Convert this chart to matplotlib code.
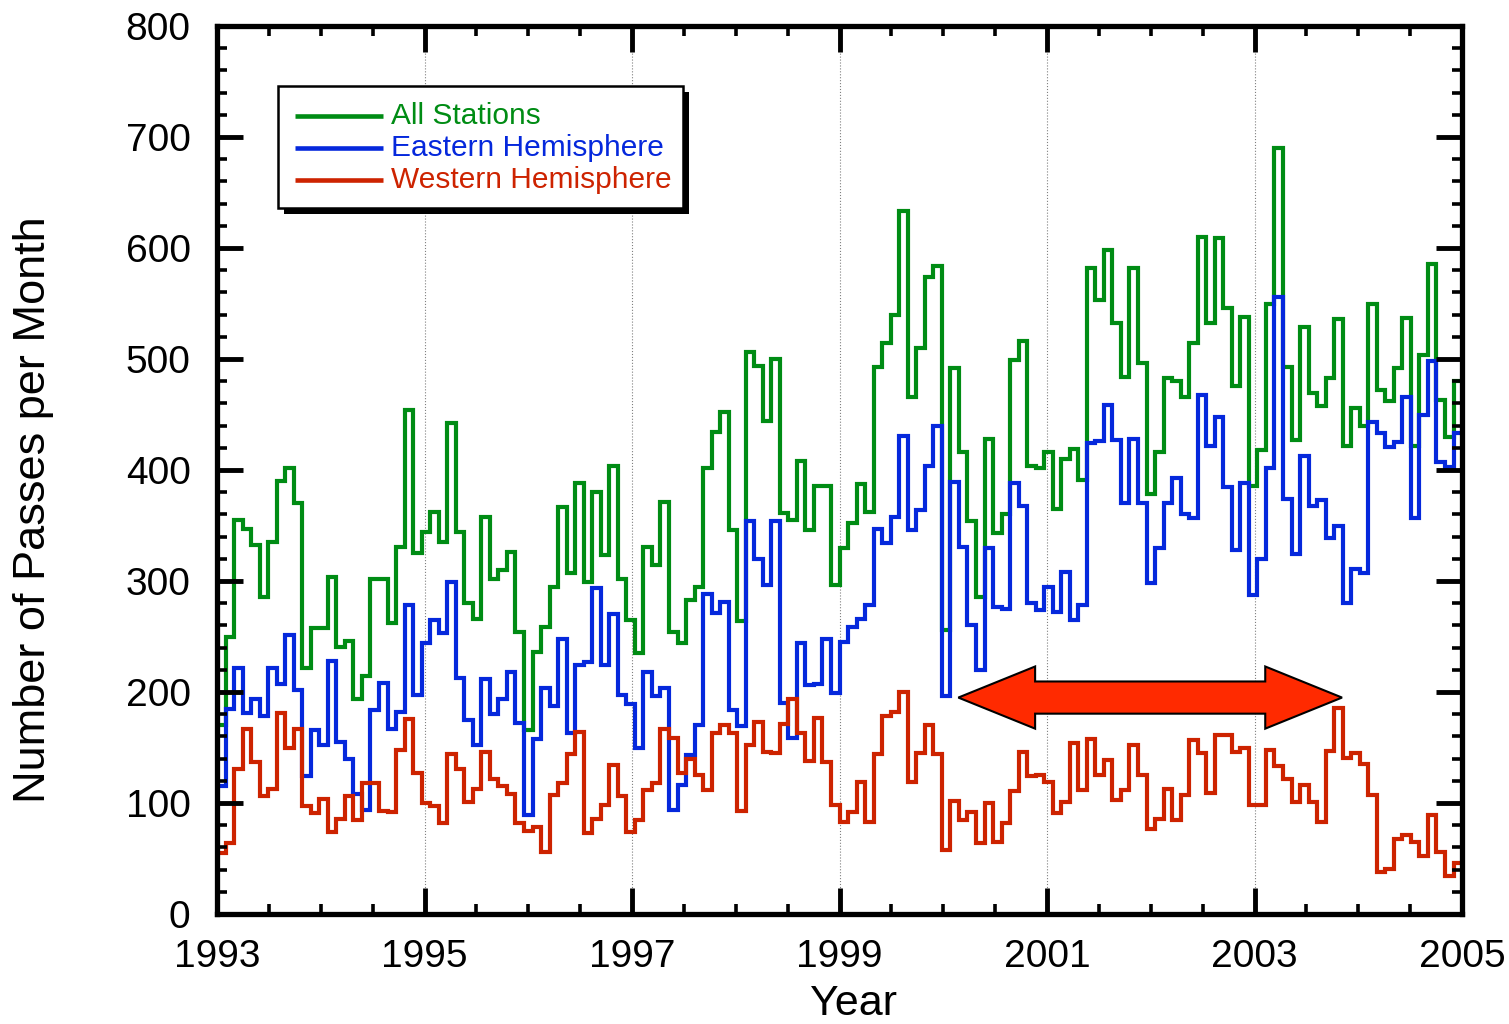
import numpy as np
import matplotlib.pyplot as plt
from matplotlib.patches import Polygon, Rectangle
from matplotlib.ticker import MultipleLocator

plt.rcParams["font.family"] = ["Liberation Sans", "DejaVu Sans"]

# monthly passes, Jan 1993 onwards
all_stations = [
    170, 250, 355, 347, 332, 286, 335, 390, 402, 370, 222, 258,
    258, 304, 241, 246, 194, 214, 302, 302, 262, 331, 454, 325,
    344, 362, 335, 442, 344, 280, 266, 358, 302, 310, 326, 254,
    166, 236, 259, 295, 367, 307, 388, 299, 380, 323, 404, 302,
    265, 235, 331, 314, 371, 254, 244, 283, 295, 402, 434, 452,
    346, 264, 506, 494, 444, 500, 361, 355, 408, 346, 386, 386,
    296, 330, 352, 387, 362, 493, 514, 540, 633, 466, 510, 574,
    584, 256, 492, 416, 354, 286, 428, 343, 360, 499, 516, 404,
    402, 416, 365, 410, 419, 391, 582, 553, 598, 532, 484, 582,
    496, 378, 416, 483, 480, 466, 514, 610, 532, 609, 546, 476,
    538, 386, 418, 550, 690, 493, 427, 529, 469, 458, 483, 536,
    422, 456, 440, 550, 472, 462, 492, 537, 422, 504, 586, 463,
    430, 480,
]
eastern = [
    115, 185, 222, 181, 194, 178, 222, 207, 251, 202, 124, 166,
    152, 228, 155, 140, 108, 94, 184, 208, 167, 182, 278, 197,
    244, 265, 253, 299, 213, 175, 152, 212, 180, 194, 218, 172,
    89, 158, 204, 187, 248, 163, 224, 227, 294, 224, 270, 197,
    189, 150, 218, 196, 204, 94, 116, 143, 170, 288, 271, 281,
    184, 169, 354, 320, 296, 354, 190, 159, 244, 206, 207, 248,
    199, 245, 259, 266, 278, 347, 334, 358, 431, 346, 364, 404,
    440, 196, 389, 331, 260, 220, 330, 277, 275, 388, 368, 280,
    274, 295, 272, 308, 265, 278, 424, 426, 459, 427, 370, 428,
    370, 298, 330, 370, 393, 360, 357, 468, 422, 448, 385, 328,
    388, 287, 320, 402, 556, 374, 324, 413, 368, 373, 339, 350,
    280, 311, 307, 443, 433, 421, 425, 466, 357, 450, 498, 407,
    403, 433,
]
western = [
    55, 64, 131, 167, 137, 106, 113, 181, 150, 167, 97, 91,
    104, 74, 86, 106, 85, 118, 118, 93, 92, 148, 176, 127,
    100, 97, 82, 144, 131, 101, 113, 146, 122, 115, 108, 82,
    75, 78, 56, 107, 118, 144, 164, 73, 86, 98, 134, 106,
    74, 85, 112, 118, 167, 159, 127, 140, 125, 112, 163, 170,
    163, 93, 152, 173, 146, 145, 171, 194, 163, 138, 177, 137,
    98, 83, 92, 119, 83, 144, 178, 182, 200, 119, 145, 170,
    144, 58, 102, 85, 92, 64, 100, 65, 82, 111, 146, 124,
    125, 119, 91, 101, 154, 112, 158, 125, 139, 103, 112, 152,
    125, 77, 86, 113, 85, 107, 157, 145, 109, 161, 161, 146,
    150, 98, 98, 148, 133, 122, 101, 116, 101, 83, 147, 186,
    141, 145, 135, 107, 38, 41, 68, 71, 65, 52, 89, 56,
    34, 46,
]
labels = ["All Stations", "Eastern Hemisphere", "Western Hemisphere"]
colors = ["#008c14", "#0528dc", "#cd2300"]

x_edges = np.linspace(1993, 2005, len(all_stations) + 1)

fig = plt.figure(figsize=(15.09, 10.24), dpi=100)
ax = fig.add_axes([0.1438, 0.1074, 0.8251, 0.8672])

for vals, c in zip([all_stations, eastern, western], colors):
    ax.stairs(vals, x_edges, baseline=None, color=c, lw=3.0)

ax.set_xlim(1993, 2005)
ax.set_ylim(0, 800)
ax.set_xticks(np.arange(1993, 2006, 2))
ax.yaxis.set_major_locator(MultipleLocator(100))
ax.yaxis.set_minor_locator(MultipleLocator(20))
ax.xaxis.set_minor_locator(MultipleLocator(0.5))

for yr in range(1995, 2005, 2):
    ax.axvline(yr, color="gray", lw=0.8, ls=":", zorder=0)

for s in ax.spines.values():
    s.set_linewidth(3.8)
ax.tick_params(which="major", direction="in", length=19, width=3.5,
               top=True, right=True, labelsize=28)
ax.tick_params(which="minor", direction="in", length=7, width=2.6,
               top=True, right=True)
ax.tick_params(axis="x", pad=18)
ax.tick_params(axis="y", pad=19)

ax.set_xlabel("Year", fontsize=31)
ax.set_ylabel("Number of Passes per Month", fontsize=32.5)
ax.xaxis.set_label_coords(0.5116, -0.079)
ax.yaxis.set_label_coords(-0.131, 0.455)

# double arrow marking the period
ax_y, hh, sh = 195, 28, 14.5
xa, xb, hl = 2000.145, 2003.843, 0.74
arrow = Polygon([
    (xa, ax_y), (xa + hl, ax_y + hh), (xa + hl, ax_y + sh),
    (xb - hl, ax_y + sh), (xb - hl, ax_y + hh), (xb, ax_y),
    (xb - hl, ax_y - hh), (xb - hl, ax_y - sh), (xa + hl, ax_y - sh),
    (xa + hl, ax_y - hh),
], closed=True, facecolor="#ff2a00", edgecolor="black", lw=1.5, zorder=5)
ax.add_patch(arrow)

# legend box with hard black shadow
tr = ax.transAxes
ax.add_patch(Rectangle((0.0538, 0.7883), 0.3254, 0.1374, transform=tr,
                       facecolor="black", edgecolor="black", lw=0, zorder=6))
ax.add_patch(Rectangle((0.049, 0.795), 0.3253, 0.1374, transform=tr,
                       facecolor="white", edgecolor="black", lw=1.8, zorder=7))
for i, (lab, c) in enumerate(zip(labels, colors)):
    yy = 0.8986 - i * 0.036
    ax.plot([0.0627, 0.1333], [yy, yy], transform=tr, color=c, lw=3.3, zorder=8,
            solid_capstyle="butt")
    ax.text(0.1398, yy, lab, transform=tr, color=c, fontsize=21.5,
            va="center", ha="left", zorder=8)

fig.savefig("out.png", dpi=100)
